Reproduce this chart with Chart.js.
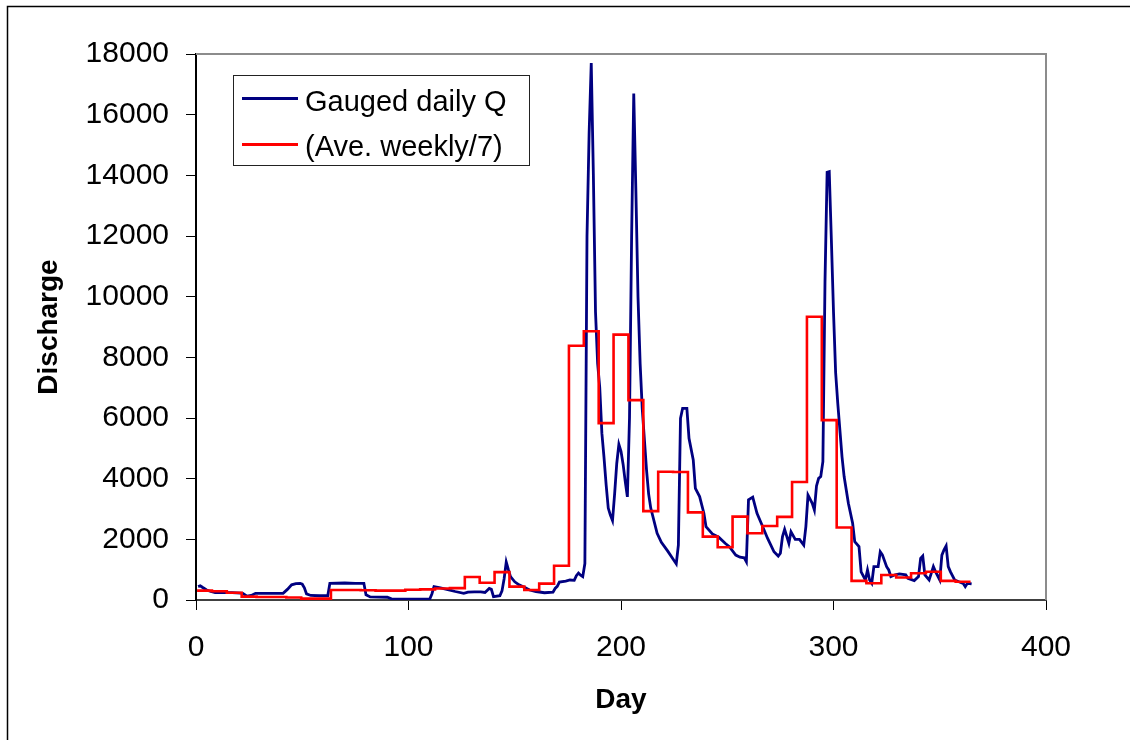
<!DOCTYPE html>
<html><head><meta charset="utf-8">
<script src="https://cdn.jsdelivr.net/npm/chart.js@4.4.0/dist/chart.umd.min.js"></script>
<style>html,body{margin:0;padding:0;background:#fff}#wrap{position:relative;width:1130px;height:740px}</style>
</head><body><div id="wrap"><canvas id="c"></canvas></div>
<script>
// ---- data ----
const seriesNames = ['Gauged daily Q', '(Ave. weekly/7)'];
const xTitle = 'Day';
const yTitle = 'Discharge';
const xTickStep = 100, xMin = 0, xMax = 400;
const yTickStep = 2000, yMin = 0, yMax = 18000;

const gaugedDays = [1,2,3,5,7,9,13,17,21,22,24,26,28,35,41,43,45,47,49,50,51,52,54,58,62,63,70,75,79,80,82,90,92,100,110,111,112,115,118,122,126,128,131,134,136,138,139,140,143,144,145,146,147,148,150,152,155,157,160,164,168,169,170,171,174,176,178,179,180,181,182,183,184,185,186,187,188,189,190,191,192,193,194,195,196,197,198,199,200,201,202,203,204,205,206,207,208,209,210,211,212,213,214,217,219,222,224,226,227,228,229,231,232,234,235,237,239,240,243,246,249,251,254,256,258,259,260,262,264,266,269,272,274,275,276,277,279,280,282,284,286,287,288,290,291,292,293,294,295,296,297,298,299,300,301,302,304,305,307,309,310,312,313,315,316,317,318,319,321,322,323,325,326,327,329,331,334,335,338,340,341,342,343,345,346,347,348,350,351,352,353,354,355,357,359,361,362,363,365];
const gaugedQ = [440,470,420,330,280,240,240,240,230,220,130,150,220,220,220,350,500,540,550,520,400,200,150,140,140,550,560,550,550,170,100,90,40,30,30,200,440,400,350,280,220,260,270,270,250,380,350,110,140,300,700,1250,1000,770,600,500,400,330,280,240,260,380,450,590,620,660,650,800,890,820,770,1200,12000,15400,17700,14000,9500,7800,7000,5500,4700,3800,3030,2800,2620,3500,4500,5130,4900,4470,3900,3400,6000,12000,16700,13500,10000,7800,6300,5300,4300,3500,3030,2200,1900,1610,1400,1190,1810,5990,6320,6320,5330,4620,3680,3410,2860,2420,2180,2070,1870,1760,1480,1410,1390,1260,3300,3390,2860,2530,2030,1590,1450,1540,2090,2330,1870,2250,2000,2000,1810,2420,3460,3190,2970,3760,4010,4070,4560,10500,14100,14120,11870,9500,7500,6490,4730,4070,3190,2530,1920,1760,930,660,990,660,550,1100,1100,1590,1490,1100,990,770,830,860,830,715,640,770,1375,1450,830,660,880,1100,935,660,1480,1650,1780,1100,935,660,600,550,440,550,530];

const weekStartDays = [1,8,15,22,29,36,43,50,57,64,71,78,85,92,99,106,113,120,127,134,141,148,155,162,169,176,183,190,197,204,211,218,225,232,239,246,253,260,267,274,281,288,295,302,309,316,323,330,337,344,351,358];
const weeklyQ = [310,290,240,110,100,100,80,45,45,330,330,320,310,310,340,350,380,390,760,570,920,440,330,540,1130,8380,8860,5830,8750,6590,2930,4230,4220,2890,2090,1740,2750,2200,2440,2740,3890,9340,5930,2390,630,550,825,740,880,930,630,600];
const lastWeekDay = 364;

// ---- build datasets ----
const gaugedPts = gaugedDays.map((d, i) => ({x: d, y: gaugedQ[i]}));
const weeklyPts = weekStartDays.map((d, i) => ({x: d - 0.5, y: weeklyQ[i]}));
weeklyPts.push({x: lastWeekDay + 0.5, y: weeklyQ[weeklyQ.length - 1]});

const FONT = "'Liberation Sans', Arial, sans-serif";
Chart.defaults.font.family = FONT;
Chart.defaults.color = '#000';

const decor = {
  id: 'decor',
  beforeDraw(chart) {
    const ctx = chart.ctx;
    ctx.save();
    ctx.fillStyle = '#fff';
    ctx.fillRect(0, 0, chart.width, chart.height);
    ctx.restore();
  },
  afterDraw(chart) {
    const ctx = chart.ctx, a = chart.chartArea;
    ctx.save();
    // outer frame (top and left visible)
    ctx.strokeStyle = '#000';
    ctx.lineWidth = 1.5;
    ctx.beginPath();
    ctx.moveTo(7.5, chart.height + 2);
    ctx.lineTo(7.5, 6.5);
    ctx.lineTo(chart.width + 2, 6.5);
    ctx.stroke();
    // plot area top & right border
    ctx.strokeStyle = '#8c8c8c';
    ctx.lineWidth = 2;
    ctx.beginPath();
    ctx.moveTo(a.left, a.top);
    ctx.lineTo(a.right, a.top);
    ctx.lineTo(a.right, a.bottom);
    ctx.stroke();
    // legend
    const lx = a.left + 37.5, ly = a.top + 21.5;
    ctx.fillStyle = '#fff';
    ctx.fillRect(lx, ly, 296, 90);
    ctx.strokeStyle = '#222';
    ctx.lineWidth = 1;
    ctx.strokeRect(lx, ly, 296, 90);
    const ds = chart.data.datasets;
    const rows = [{y: ly + 23, base: ly + 35}, {y: ly + 69, base: ly + 80}];
    ds.forEach((d, i) => {
      ctx.strokeStyle = d.borderColor;
      ctx.lineWidth = 3;
      ctx.beginPath();
      ctx.moveTo(lx + 8.5, rows[i].y);
      ctx.lineTo(lx + 64.5, rows[i].y);
      ctx.stroke();
      ctx.fillStyle = '#000';
      ctx.font = '29px ' + FONT;
      ctx.textBaseline = 'alphabetic';
      ctx.textAlign = 'left';
      ctx.fillText(d.label, lx + 71.5, rows[i].base);
    });
    ctx.restore();
  }
};

new Chart(document.getElementById('c'), {
  type: 'line',
  data: {
    datasets: [
      {label: seriesNames[0], data: gaugedPts, borderColor: '#000080', borderWidth: 2.8,
       pointRadius: 0, tension: 0, fill: false, order: 1},
      {label: seriesNames[1], data: weeklyPts, borderColor: '#ff0000', borderWidth: 2.6,
       pointRadius: 0, tension: 0, fill: false, stepped: 'before', order: 0}
    ]
  },
  options: {
    responsive: true,
    maintainAspectRatio: false,
    devicePixelRatio: 1,
    animation: false,
    layout: {padding: {top: 54, right: 84, left: 0, bottom: 0}},
    plugins: {legend: {display: false}, tooltip: {enabled: false}},
    scales: {
      x: {
        type: 'linear', min: xMin, max: xMax,
        ticks: {stepSize: xTickStep, font: {size: 30}, color: '#000', padding: 20, maxRotation: 0,
                callback: v => String(v)},
        grid: {drawOnChartArea: false, drawTicks: true, tickLength: 10, color: '#000', lineWidth: 1},
        border: {display: true, color: '#404040', width: 2},
        title: {display: true, text: xTitle, color: '#000',
                font: {size: 28, weight: 'bold', lineHeight: 1}, padding: {top: 0, bottom: 26}},
        afterFit(s) { s.height = 140; }
      },
      y: {
        type: 'linear', min: yMin, max: yMax,
        ticks: {stepSize: yTickStep, font: {size: 30}, color: '#000', padding: 17,
                callback: v => String(v)},
        grid: {drawOnChartArea: false, drawTicks: true, tickLength: 10, color: '#000', lineWidth: 1},
        border: {display: true, color: '#000', width: 2},
        title: {display: true, text: yTitle, color: '#000',
                font: {size: 28, weight: 'bold', lineHeight: 1}, padding: {top: 35, bottom: 0}},
        afterFit(s) { s.width = 196; }
      }
    }
  },
  plugins: [decor]
});
</script>
</body></html>
